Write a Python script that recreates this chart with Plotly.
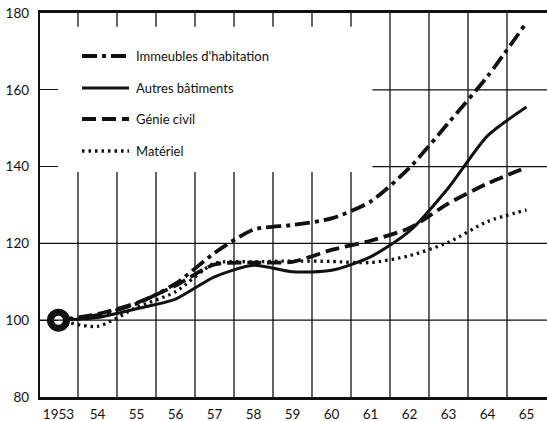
import plotly.graph_objects as go

# Indices de la production du bâtiment et des travaux publics, base 1953 = 100
years = [1953, 1954, 1955, 1956, 1957, 1958, 1959, 1960, 1961, 1962, 1963, 1964, 1965]
year_labels = ["1953", "54", "55", "56", "57", "58", "59", "60", "61", "62", "63", "64", "65"]

immeubles = [100, 101.3, 104.3, 109.5, 117.5, 123.6, 124.8, 126.5, 130.9, 139.7, 151.4, 163.5, 177.5]
autres = [100, 100.7, 103.0, 105.5, 111.3, 114.3, 112.6, 113.0, 116.5, 123.2, 134.5, 148.0, 155.5]
genie = [100, 101.6, 104.5, 109.0, 114.5, 115.0, 115.2, 118.3, 120.7, 124.0, 130.4, 135.6, 139.8]
materiel = [100, 98.4, 103.3, 107.4, 114.8, 115.2, 115.4, 115.3, 115.0, 116.8, 120.3, 125.7, 128.7]

series_names = ["Immeubles d'habitation", "Autres bâtiments", "Génie civil", "Matériel"]
y_ticks = [80, 100, 120, 140, 160, 180]

W, H = 547, 421
ML, MR, MT, MB = 40, 0, 13, 24
X_RANGE = [1952.526, 1965.526]
Y_RANGE = [80, 180]

FONT = "Lato, 'Open Sans', sans-serif"
INK = "#111111"

styles = [
    dict(color=INK, width=3.8, dash="15px,5px,4px,5px"),
    dict(color=INK, width=3.0, dash="solid"),
    dict(color=INK, width=3.8, dash="14px,6px"),
    dict(color=INK, width=3.3, dash="2.5px,4px"),
]

fig = go.Figure()
for name, vals, st in zip(series_names, [immeubles, autres, genie, materiel], styles):
    fig.add_trace(go.Scatter(
        x=years, y=vals, mode="lines", name=name,
        line=dict(color=st["color"], width=st["width"], dash=st["dash"],
                  shape="spline", smoothing=0.7),
        showlegend=False, hoverinfo="skip",
    ))

# base-year ring
fig.add_trace(go.Scatter(
    x=[years[0]], y=[immeubles[0]], mode="markers",
    marker=dict(size=16, color="white", line=dict(color=INK, width=7)),
    showlegend=False, hoverinfo="skip",
))

shapes = []
grid = dict(color=INK, width=1.3)

# vertical rules between years; the early ones leave room for the key
for b in [y + 0.5 for y in years[:-1]]:
    if b < 1961:
        shapes.append(dict(type="line", xref="x", yref="y", x0=b, x1=b, y0=176.4, y1=180, line=grid))
        shapes.append(dict(type="line", xref="x", yref="y", x0=b, x1=b, y0=80, y1=138.6, line=grid))
    else:
        shapes.append(dict(type="line", xref="x", yref="y", x0=b, x1=b, y0=80, y1=180, line=grid))

# horizontal rules
for v in y_ticks[1:-1]:
    x_start = X_RANGE[0] if v < 140 else 1961.05
    shapes.append(dict(type="line", xref="x", yref="y", x0=x_start, x1=X_RANGE[1], y0=v, y1=v, line=grid))

# key
def px_x(p):
    return (p - ML) / (W - ML - MR)

def px_y(p):
    return 1 - (p - MT) / (H - MT - MB)

annotations = []
key_rows = [56, 88, 119, 151]
for name, st, row in zip(series_names, styles, key_rows):
    shapes.append(dict(type="line", xref="paper", yref="paper",
                       x0=px_x(82), x1=px_x(129), y0=px_y(row), y1=px_y(row),
                       line=dict(color=st["color"], width=st["width"], dash=st["dash"])))
    annotations.append(dict(xref="paper", yref="paper", x=px_x(134), y=px_y(row),
                            text=name, showarrow=False, xanchor="left", yanchor="middle",
                            font=dict(family=FONT, size=13, color=INK)))

fig.update_layout(
    width=W, height=H,
    margin=dict(l=ML, r=MR, t=MT, b=MB, pad=0),
    paper_bgcolor="white", plot_bgcolor="white",
    shapes=shapes, annotations=annotations,
    font=dict(family=FONT, size=13, color=INK),
    xaxis=dict(range=X_RANGE, tickvals=years, ticktext=year_labels, showgrid=False,
               zeroline=False, showline=True, linecolor=INK, linewidth=2.6, mirror=True,
               ticks="", ticklabelstandoff=3, tickfont=dict(family=FONT, size=13.5, color=INK)),
    yaxis=dict(range=Y_RANGE, tickvals=y_ticks, showgrid=False, zeroline=False,
               showline=True, linecolor=INK, linewidth=2.4, mirror=False,
               ticks="inside", ticklen=18, tickwidth=1.3, tickcolor=INK,
               ticklabelstandoff=6, tickfont=dict(family=FONT, size=13.5, color=INK)),
)

fig.write_html("out.html")
